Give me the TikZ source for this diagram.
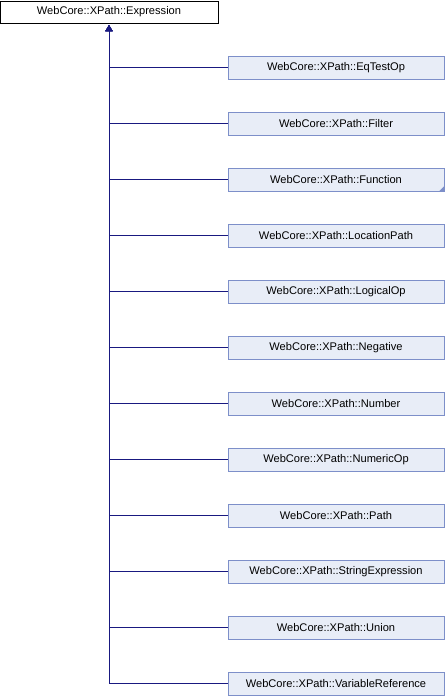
\documentclass[tikz,border=0pt]{standalone}
\usepackage{fontspec}
\setmainfont{Liberation Sans}
\usetikzlibrary{arrows.meta}

\definecolor{edgeblue}{rgb}{0.1,0.1,0.5}
\definecolor{boxline}{rgb}{0.49,0.56,0.79}
\definecolor{boxfill}{rgb}{0.91,0.93,0.97}

\tikzset{
    baseclass/.style={draw=black, fill=white, minimum width=218pt, minimum height=22pt, inner sep=0pt, font=\fontsize{11.1}{13}\selectfont},
    subclass/.style={draw=boxline, fill=boxfill, minimum width=216pt, minimum height=23pt, inner sep=0pt, font=\fontsize{11.1}{13}\selectfont},
    inherit/.style={edgeblue, line width=0.9pt, -{Triangle[length=6pt,width=7pt]}, shorten >=2pt}
}

\begin{document}
\begin{tikzpicture}[x=1pt, y=1pt]
        \useasboundingbox (0,0) rectangle (446,-696);

        \node[baseclass] (expr) at (109,-12) {WebCore::XPath::Expression};

        \node[subclass] (eqtest) at (336,-67.5) {WebCore::XPath::EqTestOp};
        \node[subclass] (filter) at (336,-123.5) {WebCore::XPath::Filter};
        \node[subclass] (function) at (336,-179.5) {WebCore::XPath::Function};
        \node[subclass] (locpath) at (336,-235.5) {WebCore::XPath::LocationPath};
        \node[subclass] (logicop) at (336,-291.5) {WebCore::XPath::LogicalOp};
        \node[subclass] (negative) at (336,-347.5) {WebCore::XPath::Negative};
        \node[subclass] (number) at (336,-403.5) {WebCore::XPath::Number};
        \node[subclass] (numericop) at (336,-459.5) {WebCore::XPath::NumericOp};
        \node[subclass] (path) at (336,-515.5) {WebCore::XPath::Path};
        \node[subclass] (strexpr) at (336,-571.5) {WebCore::XPath::StringExpression};
        \node[subclass] (union) at (336,-627.5) {WebCore::XPath::Union};
        \node[subclass] (varref) at (336,-683.5) {WebCore::XPath::VariableReference};

        % more derived classes below Function
        \fill[boxline] (function.south east) -- ++(0,5) -- ++(-5,-5) -- cycle;

        \draw[inherit] (eqtest.west) -| (expr.south);
        \draw[inherit] (filter.west) -| (expr.south);
        \draw[inherit] (function.west) -| (expr.south);
        \draw[inherit] (locpath.west) -| (expr.south);
        \draw[inherit] (logicop.west) -| (expr.south);
        \draw[inherit] (negative.west) -| (expr.south);
        \draw[inherit] (number.west) -| (expr.south);
        \draw[inherit] (numericop.west) -| (expr.south);
        \draw[inherit] (path.west) -| (expr.south);
        \draw[inherit] (strexpr.west) -| (expr.south);
        \draw[inherit] (union.west) -| (expr.south);
        \draw[inherit] (varref.west) -| (expr.south);
    \end{tikzpicture}
\end{document}
